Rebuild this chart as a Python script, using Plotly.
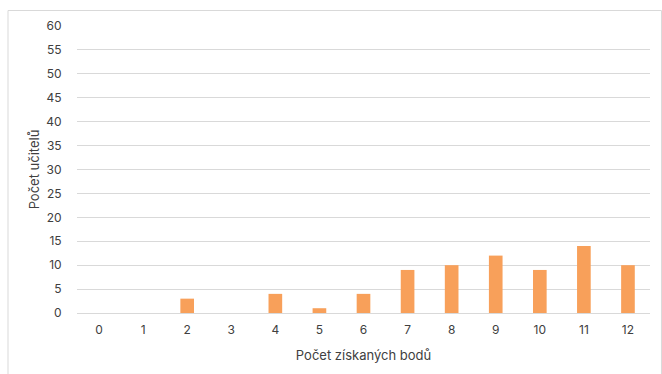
import plotly.graph_objects as go

# Points earned in the test (categories) and number of teachers per score
body = ["0", "1", "2", "3", "4", "5", "6", "7", "8", "9", "10", "11", "12"]
pocet_ucitelu = [0, 0, 3, 0, 4, 1, 4, 9, 10, 12, 9, 14, 10]
y_ticks = list(range(0, 61, 5))

font_family = "Inter, 'Open Sans', sans-serif"
text_color = "#404040"
grid_color = "#d9d9d9"

fig = go.Figure(
    go.Bar(
        x=body,
        y=pocet_ucitelu,
        marker=dict(color="#F8A05A", line=dict(width=0)),
        width=0.31,
        hoverinfo="x+y",
    )
)

fig.update_layout(
    width=662,
    height=374,
    margin=dict(l=77, r=12, t=26, b=61),
    paper_bgcolor="white",
    plot_bgcolor="white",
    font=dict(family=font_family, size=12, color=text_color),
    showlegend=False,
    xaxis=dict(
        type="category",
        range=[-0.5, 12.5],
        showgrid=False,
        showline=False,
        ticks="outside",
        ticklen=6,
        tickcolor="rgba(0,0,0,0)",
        tickfont=dict(size=12, color=text_color),
        title=dict(text="Počet získaných bodů", font=dict(size=13, color=text_color), standoff=14),
    ),
    yaxis=dict(
        range=[0, 60],
        tickvals=y_ticks,
        showgrid=True,
        gridcolor=grid_color,
        gridwidth=1.3,
        zeroline=True,
        zerolinecolor=grid_color,
        zerolinewidth=1.3,
        ticks="outside",
        ticklen=12,
        tickcolor="rgba(0,0,0,0)",
        tickfont=dict(size=12, color=text_color),
        title=dict(text="Počet učitelů", font=dict(size=13, color=text_color), standoff=3),
    ),
    shapes=[
        dict(
            type="rect",
            xref="paper",
            yref="paper",
            x0=-0.1204,
            x1=1.02,
            y0=-0.4,
            y1=1.054,
            line=dict(color="#d9d9d9", width=1),
            fillcolor="rgba(0,0,0,0)",
            layer="below",
        )
    ],
)

fig.write_html("out.html")
